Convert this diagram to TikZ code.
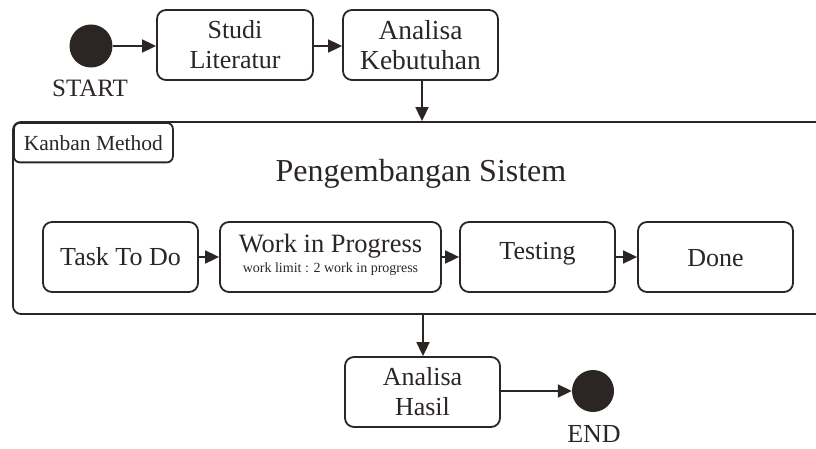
\documentclass[tikz,border=0pt]{standalone}
\usepackage{fontspec}
\setmainfont{Liberation Serif}
\usetikzlibrary{arrows.meta}
\definecolor{ink}{HTML}{2B2624}
\tikzset{
  box/.style={draw=ink, line width=1.8pt, rounded corners=9pt, inner sep=0pt,
    minimum width=155pt, minimum height=70pt, align=center, text=ink,
    font=\fontsize{26}{30}\selectfont},
  dot/.style={circle, fill=ink, draw=none, minimum size=43pt, inner sep=0pt},
  lbl/.style={text=ink, inner sep=0pt},
  flow/.style={draw=ink, line width=1.8pt, -{Triangle[length=14pt,width=13pt]}},
}
\begin{document}
\begin{tikzpicture}[x=1pt,y=-1pt]
\useasboundingbox (0,0) rectangle (816,449);
% container
\node[draw=ink, line width=1.8pt, rounded corners=8pt, minimum width=817pt, minimum height=192pt, inner sep=0pt] (cont) at (421.5,218) {};
\node[draw=ink, line width=1.8pt, rounded corners=6pt, minimum width=159pt, minimum height=39.5pt, inner sep=0pt, anchor=north west, text=ink, font=\fontsize{21.5}{23}\selectfont] (tab) at (13,122) {Kanban Method};
\node[lbl, font=\fontsize{32}{34}\selectfont] (title) at (421,174) {Pengembangan Sistem};

% top row
\node[dot] (start) at (91,46) {};
\node[lbl, font=\fontsize{25}{28}\selectfont] (starttxt) at (90,88) {START};
\node[box, minimum width=156pt] (studi) at (235,45) {Studi\\Literatur};
\node[box, font=\fontsize{27.5}{30}\selectfont] (ak) at (420.5,45) {Analisa\\Kebutuhan};

% kanban row
\node[box] (todo) at (120.5,257) {Task To Do};
\node[box, minimum width=221pt] (wip) at (330.5,257) {};
\node[lbl, font=\fontsize{26.5}{30}\selectfont] (wipt) at (330.5,246) {Work in Progress};
\node[lbl, font=\fontsize{14}{16}\selectfont] (wips) at (330.5,269) {work limit : 2 work in progress};
\node[box] (test) at (537.5,257) {};
\node[lbl, font=\fontsize{26}{30}\selectfont] (testt) at (537.5,254) {Testing};
\node[box] (done) at (715.5,257) {};
\node[lbl, font=\fontsize{26}{30}\selectfont] (donet) at (715.5,258) {Done};

% bottom
\node[box] (ah) at (422.5,392) {Analisa\\Hasil};
\node[dot, minimum size=42pt] (end) at (593,391) {};
\node[lbl, font=\fontsize{26}{28}\selectfont] (endtxt) at (594,434.5) {END};

% connectors
\draw[flow] (start) -- (studi.west |- start);
\draw[flow] (studi.east |- start) -- (ak.west |- start);
\draw[flow] (ak.south -| 422,0) -- (422,0 |- cont.north);
\draw[flow] (todo) -- (wip);
\draw[flow] (wip) -- (test);
\draw[flow] (test) -- (done);
\draw[flow] (423,0 |- cont.south) -- (423,0 |- ah.north);
\draw[flow] (ah.east |- end) -- (end);
\end{tikzpicture}
\end{document}
